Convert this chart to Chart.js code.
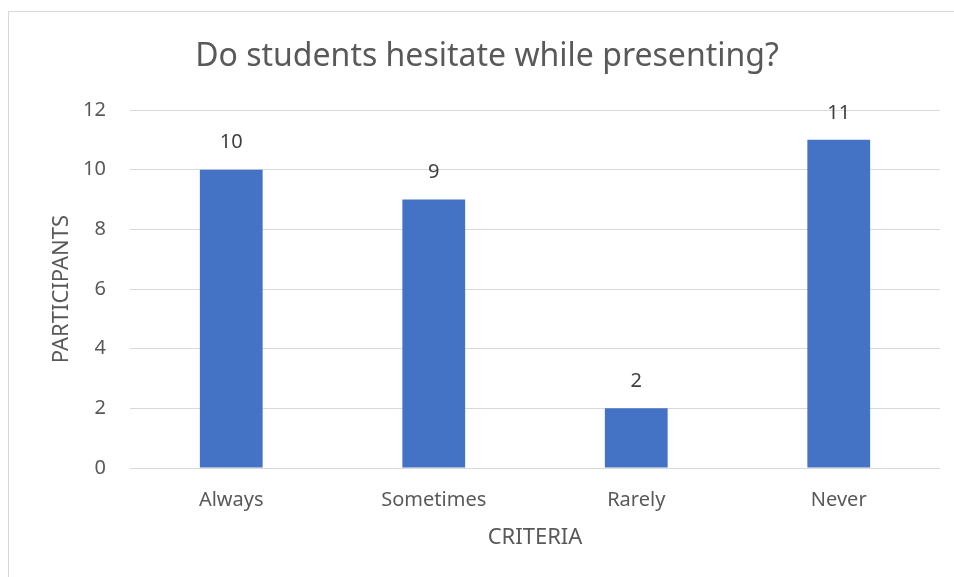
<!DOCTYPE html>
<html>
<head>
<meta charset="utf-8">
<script src="https://cdn.jsdelivr.net/npm/chart.js@4"></script>
<style>
  html, body { margin: 0; padding: 0; background: #ffffff; }
  #wrap { position: relative; width: 954px; height: 577px; overflow: hidden; }
  #frame { position: absolute; left: 8px; top: 11px; width: 1000px; height: 600px; border: 1px solid #d9d9d9; box-sizing: border-box; }
  canvas { position: absolute; left: 0; top: 0; }
</style>
</head>
<body>
<div id="wrap">
  <div id="frame"></div>
  <canvas id="c" width="954" height="577"></canvas>
</div>
<script>
const categories = ["Always", "Sometimes", "Rarely", "Never"];
const participants = [10, 9, 2, 11];
const yTicks = [0, 2, 4, 6, 8, 10, 12];
const chartTitle = "Do students hesitate while presenting?";
const xTitle = "CRITERIA";
const yTitle = "PARTICIPANTS";

const FONT = "'Noto Sans', 'Open Sans', sans-serif";

const valueLabels = {
  id: 'valueLabels',
  afterDatasetsDraw(chart) {
    const ctx = chart.ctx;
    const meta = chart.getDatasetMeta(0);
    ctx.save();
    ctx.font = "20px " + FONT;
    ctx.fillStyle = "#404040";
    ctx.textAlign = "center";
    ctx.textBaseline = "middle";
    meta.data.forEach((bar, i) => {
      ctx.fillText(String(chart.data.datasets[0].data[i]), bar.x, bar.y - 27);
    });
    ctx.restore();
  }
};

new Chart(document.getElementById('c'), {
  type: 'bar',
  data: {
    labels: categories,
    datasets: [{
      data: participants,
      backgroundColor: '#4472C4',
      borderWidth: 0,
      categoryPercentage: 1,
      barPercentage: 0.31
    }]
  },
  options: {
    responsive: false,
    animation: false,
    layout: { padding: { left: 34, right: 14, top: 10, bottom: 10 } },
    plugins: {
      legend: { display: false },
      tooltip: { enabled: false },
      title: {
        display: true,
        text: chartTitle,
        color: '#595959',
        font: { family: FONT, size: 32, weight: 'normal', lineHeight: 1.2 },
        padding: { top: 28, bottom: 33.6 }
      }
    },
    scales: {
      x: {
        grid: { display: false, drawTicks: false },
        border: { display: false },
        ticks: { color: '#595959', font: { family: FONT, size: 20 }, padding: 20 },
        title: {
          display: true, text: xTitle, color: '#595959',
          font: { family: FONT, size: 22 }, padding: { top: 0, bottom: 15.8 }
        },
        afterFit(scale) { scale.height = 99; }
      },
      y: {
        min: 0, max: 12,
        afterBuildTicks(scale) { scale.ticks = yTicks.map(v => ({ value: v })); },
        grid: { color: '#d9d9d9', lineWidth: 1, drawTicks: false },
        border: { display: false },
        ticks: { color: '#595959', font: { family: FONT, size: 20 }, padding: 24 },
        title: {
          display: true, text: yTitle, color: '#595959',
          font: { family: FONT, size: 22 }, padding: { top: 14.8, bottom: 0 }
        },
        afterFit(scale) { scale.width = 96; }
      }
    }
  },
  plugins: [valueLabels]
});
</script>
</body>
</html>
